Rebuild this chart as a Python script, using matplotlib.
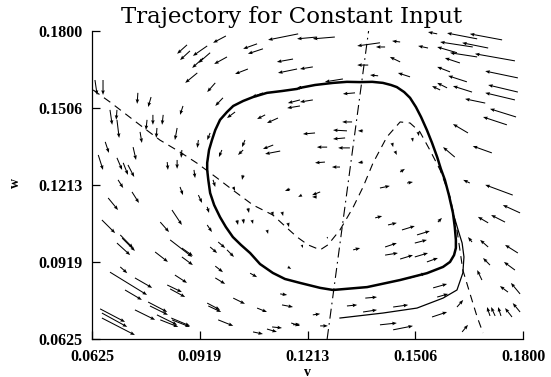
import matplotlib
matplotlib.use("Agg")
import matplotlib.pyplot as plt
import numpy as np

# limit cycle (thick closed loop)
cycle_v = [0.1192, 0.1233, 0.1282, 0.1320, 0.1356, 0.1389, 0.1418, 0.1440, 0.1456, 0.1476,
           0.1492, 0.1508, 0.1522, 0.1538, 0.1552, 0.1566, 0.1576, 0.1587, 0.1598, 0.1609,
           0.1614, 0.1617, 0.1617, 0.1612, 0.1601, 0.1582, 0.1560, 0.1538, 0.1465, 0.1375,
           0.1282, 0.1247, 0.1192, 0.1151, 0.1118, 0.1083, 0.1056, 0.1031, 0.1009, 0.0990,
           0.0974, 0.0958, 0.0947, 0.0942, 0.0939, 0.0939, 0.0944, 0.0952, 0.0961, 0.0974,
           0.0993, 0.1010, 0.1037, 0.1064, 0.1102, 0.1143, 0.1184, 0.1192]
cycle_w = [0.1583, 0.1594, 0.1602, 0.1606, 0.1605, 0.1606, 0.1602, 0.1594, 0.1586, 0.1567,
           0.1545, 0.1510, 0.1472, 0.1422, 0.1373, 0.1319, 0.1274, 0.1232, 0.1174, 0.1106,
           0.1052, 0.1003, 0.0972, 0.0945, 0.0919, 0.0900, 0.0888, 0.0876, 0.0850, 0.0823,
           0.0812, 0.0820, 0.0839, 0.0854, 0.0877, 0.0911, 0.0953, 0.0984, 0.1014, 0.1052,
           0.1090, 0.1136, 0.1182, 0.1232, 0.1270, 0.1297, 0.1346, 0.1384, 0.1422, 0.1461,
           0.1491, 0.1514, 0.1533, 0.1548, 0.1564, 0.1571, 0.1579, 0.1583]

# transient part of the trajectory (thin)
start_v = [0.1301, 0.1418, 0.1511, 0.1582, 0.1620, 0.1636, 0.1639, 0.1634, 0.1623, 0.1615, 0.1609]
start_w = [0.0705, 0.0724, 0.0743, 0.0781, 0.0812, 0.0877, 0.0938, 0.0991, 0.1041, 0.1079, 0.1106]

# v nullcline (dashed)
vnull_v = [0.0628, 0.0674, 0.0756, 0.0810, 0.0865, 0.0911, 0.0966, 0.1009, 0.1064, 0.1118,
           0.1157, 0.1184, 0.1214, 0.1247, 0.1268, 0.1301, 0.1336, 0.1364, 0.1391, 0.1429,
           0.1465, 0.1492, 0.1519, 0.1546, 0.1574, 0.1601, 0.1620, 0.1636, 0.1655, 0.1675, 0.1691]
vnull_w = [0.1575, 0.1529, 0.1441, 0.1384, 0.1338, 0.1296, 0.1239, 0.1193, 0.1136, 0.1098,
           0.1048, 0.1014, 0.0984, 0.0965, 0.0984, 0.1041, 0.1125, 0.1205, 0.1296, 0.1396,
           0.1453, 0.1449, 0.1415, 0.1346, 0.1270, 0.1167, 0.1041, 0.0888, 0.0800, 0.0709, 0.0648]

# w nullcline (dash-dot)
wnull_v = [0.1266, 0.1379]
wnull_w = [0.0625, 0.1800]

# direction field: tail (v, w) and head (v, w)
tail_v = [0.0884, 0.0892, 0.0939, 0.0947, 0.0928, 0.0990, 0.0993, 0.1075, 0.1091, 0.1187,
          0.1238, 0.1173, 0.1184, 0.1050, 0.0912, 0.0961, 0.0982, 0.1091, 0.1132, 0.1097,
          0.1192, 0.1192, 0.0873, 0.0750, 0.0786, 0.0633, 0.0655, 0.0674, 0.0791, 0.0819,
          0.0857, 0.0756, 0.0693, 0.0661, 0.0737, 0.0915, 0.0693, 0.0710, 0.0723, 0.0830,
          0.0857, 0.0947, 0.0979, 0.0903, 0.0642, 0.0693, 0.0775, 0.0802, 0.0870, 0.0955,
          0.1015,
          0.1287, 0.1410, 0.1227, 0.1424, 0.1465, 0.1566, 0.1465, 0.1492, 0.1405, 0.1309,
          0.1342, 0.1227, 0.1541, 0.1378,
          0.1743, 0.1705, 0.1620, 0.1778, 0.1628, 0.1601, 0.1786, 0.1647, 0.1786, 0.1778,
          0.1661, 0.1593, 0.1697, 0.1781, 0.1756, 0.1650, 0.1715, 0.1614, 0.1675, 0.1574,
          0.1675, 0.1663,
          0.1334, 0.1320, 0.1315, 0.1364, 0.1266, 0.1328, 0.1233, 0.1260, 0.1301, 0.1364,
          0.1410, 0.1484, 0.1443, 0.1451, 0.1498, 0.1514, 0.1465,
          0.1397, 0.1432, 0.1470, 0.1511, 0.1505, 0.1424, 0.1424, 0.1465, 0.1505, 0.1538,
          0.1568, 0.1337, 0.1247,
          0.1042, 0.1037, 0.1119, 0.1138, 0.1165, 0.1197, 0.1238,
          0.1010, 0.1037, 0.1050, 0.1020, 0.1037, 0.1061, 0.1102, 0.1116, 0.1143, 0.1159,
          0.1197, 0.1266,
          0.0696, 0.0734, 0.0669, 0.0652, 0.0702, 0.0707, 0.0693, 0.0865, 0.0843, 0.0811,
          0.0838, 0.0870, 0.0870, 0.0797, 0.0915, 0.0939, 0.0939, 0.0947, 0.0969, 0.0993,
          0.0961, 0.0961, 0.0674, 0.0742, 0.0715, 0.0851, 0.0830, 0.0838, 0.0778, 0.0783,
          0.0742, 0.0802, 0.0843, 0.0939, 0.0942, 0.0969, 0.1010, 0.1075, 0.1056, 0.1159,
          0.0652, 0.0652, 0.0647, 0.1138, 0.1143, 0.1116, 0.1168, 0.0811, 0.0841, 0.1064,
          0.1102, 0.0702,
          0.1227, 0.1247, 0.1320, 0.1364, 0.1410, 0.1446, 0.1446, 0.1552, 0.1370, 0.1555,
          0.1566, 0.1492, 0.1173, 0.1620, 0.1634,
          0.1772, 0.1792, 0.1705, 0.1705, 0.1786, 0.1710, 0.1778, 0.1759, 0.1792, 0.1792,
          0.1770, 0.1710, 0.1724, 0.1740, 0.1655, 0.1661, 0.1688, 0.1751]
tail_w = [0.1747, 0.1724, 0.1743, 0.1717, 0.1697, 0.1781, 0.1701, 0.1751, 0.1732, 0.1789,
          0.1777, 0.1693, 0.1655, 0.1655, 0.1640, 0.1602, 0.1545, 0.1564, 0.1468, 0.1480,
          0.1537, 0.1514, 0.1514, 0.1564, 0.1548, 0.1613, 0.1613, 0.1499, 0.1480, 0.1480,
          0.1430, 0.1415, 0.1461, 0.1377, 0.1357, 0.1384, 0.1316, 0.1297, 0.1289, 0.1300,
          0.1308, 0.1411, 0.1346, 0.1270, 0.1327, 0.1499, 0.1461, 0.1430, 0.1346, 0.1232,
          0.1491,
          0.1777, 0.1755, 0.1663, 0.1739, 0.1758, 0.1789, 0.1682, 0.1625, 0.1629, 0.1617,
          0.1564, 0.1537, 0.1735, 0.1670,
          0.1766, 0.1735, 0.1717, 0.1686, 0.1678, 0.1644, 0.1621, 0.1606, 0.1567, 0.1537,
          0.1567, 0.1583, 0.1525, 0.1472, 0.1442, 0.1411, 0.1335, 0.1319, 0.1770, 0.1575,
          0.1701, 0.1739,
          0.1453, 0.1419, 0.1392, 0.1419, 0.1357, 0.1354, 0.1411, 0.1300, 0.1281, 0.1300,
          0.1201, 0.1220, 0.1373, 0.1342, 0.1392, 0.1415, 0.1262,
          0.1087, 0.1060, 0.1041, 0.1022, 0.0991, 0.0976, 0.0945, 0.0930, 0.0938, 0.0919,
          0.1071, 0.0965, 0.1186,
          0.1384, 0.1346, 0.1365, 0.1342, 0.1197, 0.1174, 0.1167,
          0.1205, 0.1251, 0.1125, 0.1079, 0.1083, 0.1079, 0.1041, 0.1110, 0.1110, 0.1068,
          0.0984, 0.1014,
          0.1232, 0.1186, 0.1163, 0.1079, 0.1022, 0.1010, 0.0991, 0.1205, 0.1117, 0.1071,
          0.1003, 0.0972, 0.0938, 0.0957, 0.1174, 0.1129, 0.1060, 0.0976, 0.0995, 0.0965,
          0.0903, 0.0858, 0.0880, 0.0858, 0.0812, 0.0869, 0.0831, 0.0816, 0.0766, 0.0751,
          0.0736, 0.0717, 0.0698, 0.0762, 0.0751, 0.0698, 0.0781, 0.0743, 0.0876, 0.0900,
          0.0724, 0.0705, 0.0740, 0.0797, 0.0755, 0.0671, 0.0686, 0.0698, 0.0705, 0.0652,
          0.0663, 0.0900,
          0.0717, 0.0675, 0.0751, 0.0728, 0.0679, 0.0660, 0.0747, 0.0709, 0.0781, 0.0820,
          0.0785, 0.0858, 0.0679, 0.0747, 0.0652,
          0.1174, 0.1106, 0.1068, 0.0976, 0.0953, 0.0907, 0.0888, 0.0804, 0.0797, 0.0728,
          0.0709, 0.0713, 0.0713, 0.0713, 0.1220, 0.0995, 0.0850, 0.1071]
head_v = [0.0857, 0.0865, 0.0900, 0.0915, 0.0898, 0.0955, 0.0958, 0.1037, 0.1050, 0.1105,
          0.1184, 0.1129, 0.1132, 0.1015, 0.0879, 0.0939, 0.0961, 0.1061, 0.1102, 0.1075,
          0.1159, 0.1157, 0.0865, 0.0748, 0.0778, 0.0639, 0.0655, 0.0680, 0.0791, 0.0816,
          0.0851, 0.0761, 0.0699, 0.0671, 0.0745, 0.0912, 0.0707, 0.0723, 0.0740, 0.0832,
          0.0857, 0.0939, 0.0971, 0.0906, 0.0655, 0.0691, 0.0772, 0.0800, 0.0868, 0.0961,
          0.0993,
          0.1227, 0.1348, 0.1192, 0.1399, 0.1443, 0.1541, 0.1437, 0.1459, 0.1383, 0.1260,
          0.1309, 0.1192, 0.1514, 0.1348,
          0.1655, 0.1634, 0.1566, 0.1669, 0.1587, 0.1566, 0.1697, 0.1596, 0.1705, 0.1697,
          0.1609, 0.1566, 0.1642, 0.1710, 0.1691, 0.1609, 0.1663, 0.1582, 0.1593, 0.1552,
          0.1601, 0.1574,
          0.1307, 0.1282, 0.1282, 0.1350, 0.1238, 0.1296, 0.1200, 0.1233, 0.1279, 0.1350,
          0.1437, 0.1500, 0.1446, 0.1456, 0.1500, 0.1516, 0.1478,
          0.1416, 0.1456, 0.1505, 0.1546, 0.1538, 0.1456, 0.1459, 0.1500, 0.1541, 0.1568,
          0.1579, 0.1356, 0.1225,
          0.1034, 0.1023, 0.1091, 0.1097, 0.1151, 0.1187, 0.1225,
          0.1015, 0.1034, 0.1053, 0.1023, 0.1039, 0.1064, 0.1105, 0.1119, 0.1146, 0.1162,
          0.1200, 0.1268,
          0.0710, 0.0753, 0.0696, 0.0688, 0.0737, 0.0742, 0.0729, 0.0873, 0.0870, 0.0835,
          0.0898, 0.0900, 0.0900, 0.0832, 0.0925, 0.0944, 0.0952, 0.0966, 0.0988, 0.1012,
          0.0982, 0.0988, 0.0775, 0.0789, 0.0761, 0.0884, 0.0870, 0.0879, 0.0830, 0.0832,
          0.0797, 0.0857, 0.0892, 0.0974, 0.0977, 0.1010, 0.1042, 0.1102, 0.1075, 0.1168,
          0.0721, 0.0742, 0.0715, 0.1157, 0.1173, 0.1143, 0.1192, 0.0860, 0.0892, 0.1091,
          0.1129, 0.0721,
          0.1247, 0.1268, 0.1348, 0.1402, 0.1456, 0.1500, 0.1487, 0.1593, 0.1402, 0.1593,
          0.1596, 0.1535, 0.1192, 0.1637, 0.1650,
          0.1697, 0.1745, 0.1677, 0.1683, 0.1751, 0.1691, 0.1748, 0.1737, 0.1767, 0.1772,
          0.1751, 0.1702, 0.1713, 0.1732, 0.1637, 0.1650, 0.1675, 0.1713]
head_w = [0.1713, 0.1689, 0.1705, 0.1678, 0.1659, 0.1755, 0.1674, 0.1732, 0.1713, 0.1766,
          0.1770, 0.1682, 0.1640, 0.1636, 0.1602, 0.1567, 0.1514, 0.1548, 0.1449, 0.1464,
          0.1525, 0.1506, 0.1480, 0.1522, 0.1510, 0.1556, 0.1556, 0.1442, 0.1442, 0.1442,
          0.1384, 0.1373, 0.1392, 0.1335, 0.1308, 0.1354, 0.1270, 0.1251, 0.1243, 0.1270,
          0.1274, 0.1384, 0.1319, 0.1239, 0.1270, 0.1461, 0.1422, 0.1392, 0.1316, 0.1205,
          0.1468,
          0.1770, 0.1743, 0.1655, 0.1739, 0.1762, 0.1796, 0.1701, 0.1640, 0.1632, 0.1606,
          0.1560, 0.1529, 0.1743, 0.1670,
          0.1789, 0.1755, 0.1739, 0.1713, 0.1697, 0.1663, 0.1647, 0.1629, 0.1594, 0.1564,
          0.1590, 0.1602, 0.1541, 0.1503, 0.1472, 0.1445, 0.1361, 0.1357, 0.1792, 0.1590,
          0.1717, 0.1758,
          0.1453, 0.1422, 0.1388, 0.1419, 0.1357, 0.1354, 0.1407, 0.1297, 0.1281, 0.1297,
          0.1209, 0.1224, 0.1357, 0.1327, 0.1377, 0.1399, 0.1274,
          0.1094, 0.1068, 0.1056, 0.1037, 0.1003, 0.0991, 0.0953, 0.0945, 0.0953, 0.0934,
          0.1087, 0.0972, 0.1174,
          0.1357, 0.1327, 0.1350, 0.1331, 0.1190, 0.1167, 0.1167,
          0.1190, 0.1232, 0.1106, 0.1060, 0.1064, 0.1064, 0.1026, 0.1094, 0.1094, 0.1052,
          0.0972, 0.1007,
          0.1201, 0.1144, 0.1117, 0.1029, 0.0972, 0.0961, 0.0945, 0.1174, 0.1060, 0.1033,
          0.0938, 0.0942, 0.0907, 0.0919, 0.1144, 0.1106, 0.1033, 0.0953, 0.0972, 0.0938,
          0.0880, 0.0835, 0.0793, 0.0820, 0.0774, 0.0839, 0.0804, 0.0785, 0.0728, 0.0717,
          0.0698, 0.0679, 0.0671, 0.0736, 0.0728, 0.0675, 0.0759, 0.0728, 0.0861, 0.0892,
          0.0671, 0.0640, 0.0690, 0.0793, 0.0747, 0.0667, 0.0675, 0.0671, 0.0675, 0.0644,
          0.0652, 0.0876,
          0.0721, 0.0675, 0.0755, 0.0736, 0.0686, 0.0675, 0.0755, 0.0728, 0.0785, 0.0835,
          0.0797, 0.0876, 0.0682, 0.0774, 0.0679,
          0.1213, 0.1136, 0.1091, 0.1003, 0.0984, 0.0934, 0.0919, 0.0827, 0.0839, 0.0762,
          0.0743, 0.0747, 0.0747, 0.0747, 0.1232, 0.1014, 0.0888, 0.1098]

ticks = [0.0625, 0.0919, 0.1213, 0.1506, 0.1800]
tick_labels = ["0.0625", "0.0919", "0.1213", "0.1506", "0.1800"]

fig = plt.figure(figsize=(5.51, 3.77), dpi=100)
ax = fig.add_axes([0.1670, 0.1008, 0.7822, 0.8170])

tv = np.array(tail_v)
tw = np.array(tail_w)
ax.quiver(tv, tw, np.array(head_v) - tv, np.array(head_w) - tw,
          angles="xy", scale_units="xy", scale=1, color="black",
          width=0.0024, headwidth=3.5, headlength=4.5, headaxislength=4, zorder=2)

ax.plot(vnull_v, vnull_w, color="black", lw=0.8, linestyle=(0, (7, 5)), zorder=3)
ax.plot(wnull_v, wnull_w, color="black", lw=0.8, linestyle=(0, (9, 4, 1.5, 4)), zorder=3)
ax.plot(start_v, start_w, color="black", lw=0.9, zorder=4)
ax.plot(cycle_v, cycle_w, color="black", lw=1.8, zorder=4, solid_joinstyle="round")

ax.set_xlim(0.0625, 0.18)
ax.set_ylim(0.0625, 0.18)
for side in ["top", "right"]:
    ax.spines[side].set_visible(False)
for side in ["left", "bottom"]:
    ax.spines[side].set_linewidth(0.9)

ax.set_xticks(ticks)
ax.set_yticks(ticks)
ax.set_xticklabels(tick_labels)
ax.set_yticklabels(tick_labels)
ax.tick_params(direction="in", length=6, width=0.9, pad=7)
for lab in ax.get_xticklabels() + ax.get_yticklabels():
    lab.set_fontfamily("Liberation Serif")
    lab.set_fontweight("bold")
    lab.set_fontsize(11.5)

fig.text(0.530, 0.939, "Trajectory for Constant Input", family="DejaVu Serif",
         fontsize=16.5, ha="center", va="baseline")
fig.text(308 / 551, 1 - 372 / 377, "v", family="Liberation Serif", fontweight="bold",
         fontsize=10, ha="center", va="center")
fig.text(15 / 551, 1 - 183 / 377, "w", family="Liberation Serif", fontweight="bold",
         fontsize=10, ha="center", va="center", rotation=90)

fig.savefig("out.png", dpi=100)
